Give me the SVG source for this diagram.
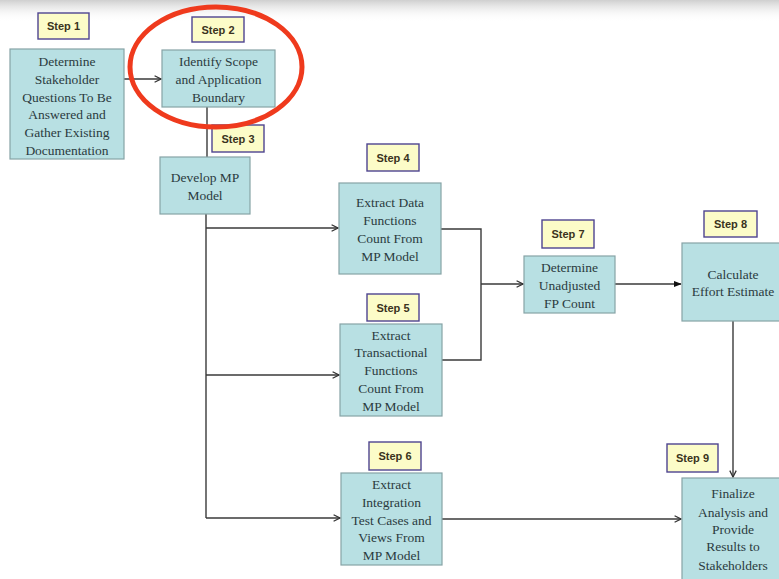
<svg xmlns="http://www.w3.org/2000/svg" width="779" height="579" viewBox="0 0 779 579">
  <defs>
    <linearGradient id="topShade" x1="0" y1="0" x2="0" y2="1">
      <stop offset="0" stop-color="#cfcfcf"/>
      <stop offset="1" stop-color="#ffffff" stop-opacity="0"/>
    </linearGradient>
    <marker id="openArrow" viewBox="0 0 10 10" refX="9" refY="5" markerWidth="8" markerHeight="8" markerUnits="userSpaceOnUse" orient="auto">
      <path d="M1,1 L9,5 L1,9" fill="none" stroke="#333" stroke-width="1.6"/>
    </marker>
    <marker id="solidArrow" viewBox="0 0 10 10" refX="9" refY="5" markerWidth="8" markerHeight="8" markerUnits="userSpaceOnUse" orient="auto">
      <path d="M0,1 L10,5 L0,9 Z" fill="#111"/>
    </marker>
  </defs>
  <style>
    .box { fill: #b8e0e3; stroke: #86a3a6; stroke-width: 1.2; }
    .tag { fill: #fcfcc8; stroke: #4e4490; stroke-width: 1.4; }
    .txt { font-family: "Liberation Serif", "Times New Roman", serif; font-size: 13.5px; fill: #2b3b40; text-anchor: middle; }
    .tagtxt { font-family: "Liberation Sans", Arial, sans-serif; font-size: 11px; font-weight: bold; fill: #3a3320; text-anchor: middle; }
    .wire { fill: none; stroke: #3a3a3a; stroke-width: 1.4; }
  </style>

  <rect x="0" y="0" width="779" height="579" fill="#ffffff"/>
  <rect x="0" y="0" width="779" height="22" fill="url(#topShade)"/>

  <!-- connectors -->
  <g id="connectors">
    <line class="wire" x1="124" y1="79" x2="161" y2="79" marker-end="url(#openArrow)"/>
    <line class="wire" x1="207" y1="107" x2="207" y2="157"/>
    <polyline class="wire" points="206,214 206,518"/>
    <line class="wire" x1="206" y1="228" x2="338" y2="228" marker-end="url(#openArrow)"/>
    <line class="wire" x1="206" y1="375" x2="339" y2="375" marker-end="url(#openArrow)"/>
    <line class="wire" x1="206" y1="518" x2="340" y2="518" marker-end="url(#openArrow)"/>
    <polyline class="wire" points="441,229 481,229 481,360 442,360"/>
    <line class="wire" x1="481" y1="284" x2="523" y2="284" marker-end="url(#openArrow)"/>
    <line class="wire" x1="615" y1="284" x2="681" y2="284" marker-end="url(#solidArrow)"/>
    <line class="wire" x1="733" y1="321" x2="733" y2="477" marker-end="url(#openArrow)"/>
    <line class="wire" x1="442" y1="519" x2="681" y2="519" marker-end="url(#openArrow)"/>
  </g>

  <g id="step1">
    <rect class="tag" x="38" y="13" width="51" height="26"/>
    <text class="tagtxt" x="63.5" y="30">Step 1</text>
    <rect class="box" x="10" y="49" width="114" height="110"/>
    <text class="txt" x="67" y="66">Determine</text>
    <text class="txt" x="67" y="84">Stakeholder</text>
    <text class="txt" x="67" y="102">Questions To Be</text>
    <text class="txt" x="67" y="119">Answered and</text>
    <text class="txt" x="67" y="137">Gather Existing</text>
    <text class="txt" x="67" y="155">Documentation</text>
  </g>

  <g id="step2">
    <rect class="tag" x="192" y="17" width="52" height="25"/>
    <text class="tagtxt" x="218" y="34">Step 2</text>
    <rect class="box" x="162" y="50" width="113" height="57"/>
    <text class="txt" x="218.5" y="66">Identify Scope</text>
    <text class="txt" x="218.5" y="84">and Application</text>
    <text class="txt" x="218.5" y="102">Boundary</text>
  </g>

  <g id="step3">
    <rect class="tag" x="212" y="125" width="52" height="27"/>
    <text class="tagtxt" x="238" y="143">Step 3</text>
    <rect class="box" x="160" y="157" width="90" height="57"/>
    <text class="txt" x="205" y="182">Develop MP</text>
    <text class="txt" x="205" y="200">Model</text>
  </g>

  <g id="step4">
    <rect class="tag" x="367" y="144" width="52" height="27"/>
    <text class="tagtxt" x="393" y="162">Step 4</text>
    <rect class="box" x="339" y="183" width="102" height="91"/>
    <text class="txt" x="390" y="207">Extract Data</text>
    <text class="txt" x="390" y="225">Functions</text>
    <text class="txt" x="390" y="243">Count From</text>
    <text class="txt" x="390" y="261">MP Model</text>
  </g>

  <g id="step5">
    <rect class="tag" x="367" y="294" width="52" height="27"/>
    <text class="tagtxt" x="393" y="312">Step 5</text>
    <rect class="box" x="340" y="324" width="102" height="92"/>
    <text class="txt" x="391" y="340">Extract</text>
    <text class="txt" x="391" y="357">Transactional</text>
    <text class="txt" x="391" y="375">Functions</text>
    <text class="txt" x="391" y="393">Count From</text>
    <text class="txt" x="391" y="411">MP Model</text>
  </g>

  <g id="step6">
    <rect class="tag" x="369" y="442" width="52" height="28"/>
    <text class="tagtxt" x="395" y="460">Step 6</text>
    <rect class="box" x="341" y="473" width="101" height="92"/>
    <text class="txt" x="391.5" y="489">Extract</text>
    <text class="txt" x="391.5" y="507">Integration</text>
    <text class="txt" x="391.5" y="525">Test Cases and</text>
    <text class="txt" x="391.5" y="542">Views From</text>
    <text class="txt" x="391.5" y="560">MP Model</text>
  </g>

  <g id="step7">
    <rect class="tag" x="542" y="220" width="52" height="28"/>
    <text class="tagtxt" x="568" y="238">Step 7</text>
    <rect class="box" x="524" y="256" width="91" height="57"/>
    <text class="txt" x="569.5" y="272">Determine</text>
    <text class="txt" x="569.5" y="290">Unadjusted</text>
    <text class="txt" x="569.5" y="308">FP Count</text>
  </g>

  <g id="step8">
    <rect class="tag" x="704" y="211" width="53" height="26"/>
    <text class="tagtxt" x="730.5" y="228">Step 8</text>
    <rect class="box" x="682" y="243" width="103" height="78"/>
    <text class="txt" x="733" y="279">Calculate</text>
    <text class="txt" x="733" y="296">Effort Estimate</text>
  </g>

  <g id="step9">
    <rect class="tag" x="667" y="444" width="51" height="28"/>
    <text class="tagtxt" x="692.5" y="462">Step 9</text>
    <rect class="box" x="682" y="478" width="103" height="105"/>
    <text class="txt" x="733" y="498">Finalize</text>
    <text class="txt" x="733" y="517">Analysis and</text>
    <text class="txt" x="733" y="534">Provide</text>
    <text class="txt" x="733" y="551">Results to</text>
    <text class="txt" x="733" y="570">Stakeholders</text>
  </g>

  <!-- highlight ring around step 2 -->
  <ellipse cx="216" cy="67" rx="86" ry="60" fill="none" stroke="#ef3a1d" stroke-width="5"/>
</svg>
